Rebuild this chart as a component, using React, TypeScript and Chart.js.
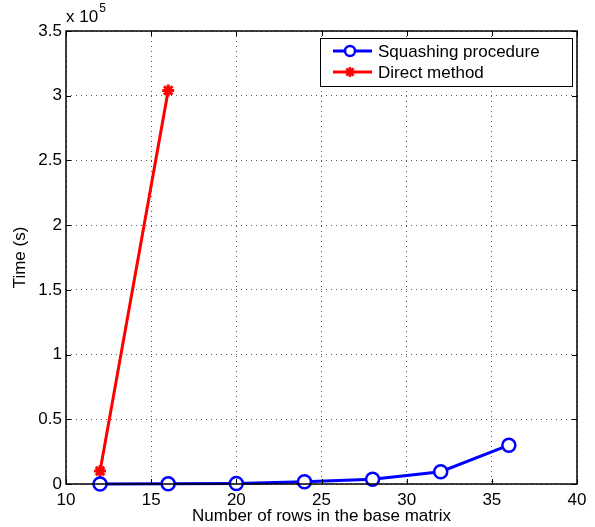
import React, { useEffect, useRef } from "react";
import { Chart, registerables } from "chart.js";

Chart.register(...registerables);

const rows = [12, 16, 20, 24, 28, 32, 36];
const squashingTime = [50, 150, 400, 1800, 3700, 9500, 30000];
const directRows = [12, 16];
const directTime = [10000, 304000];
const xTicks = [10, 15, 20, 25, 30, 35, 40];
const yTickLabels = ["0", "0.5", "1", "1.5", "2", "2.5", "3", "3.5"];

const FONT = "'Liberation Sans', Arial, Helvetica, sans-serif";
const FS = 17;

const boxPlugin = {
  id: "boxAndLegend",
  afterDatasetsDraw(chart: any) {
    const { ctx, chartArea } = chart;
    const { left, right, top, bottom } = chartArea;
    ctx.save();
    ctx.strokeStyle = "#000";
    ctx.lineWidth = 1.5;
    ctx.strokeRect(left, top, right - left, bottom - top);
    // inward ticks
    const xs = chart.scales.x;
    const ys = chart.scales.y;
    ctx.lineWidth = 1;
    ctx.beginPath();
    xTicks.forEach((v) => {
      const px = Math.round(xs.getPixelForValue(v)) + 0.5;
      ctx.moveTo(px, bottom);
      ctx.lineTo(px, bottom - 5);
      ctx.moveTo(px, top);
      ctx.lineTo(px, top + 5);
    });
    yTickLabels.forEach((_, i) => {
      const py = Math.round(ys.getPixelForValue(i * 50000)) + 0.5;
      ctx.moveTo(left, py);
      ctx.lineTo(left + 5, py);
      ctx.moveTo(right, py);
      ctx.lineTo(right - 5, py);
    });
    ctx.stroke();

    // exponent label
    ctx.fillStyle = "#000";
    ctx.textBaseline = "alphabetic";
    ctx.textAlign = "left";
    ctx.font = `${FS}px ${FONT}`;
    ctx.fillText("x 10", left, 22);
    const w = ctx.measureText("x 10").width;
    ctx.font = `12px ${FONT}`;
    ctx.fillText("5", left + w + 1, 12);

    // legend
    const lx = 320, ly = 38, lw = 252, lh = 48;
    ctx.fillStyle = "#fff";
    ctx.fillRect(lx, ly, lw, lh);
    ctx.strokeStyle = "#000";
    ctx.lineWidth = 1;
    ctx.strokeRect(lx + 0.5, ly + 0.5, lw, lh);
    const items = [
      { label: "Squashing procedure", color: "#0000ff", style: "circle" },
      { label: "Direct method", color: "#ff0000", style: "star" },
    ];
    items.forEach((it, i) => {
      const cy = ly + 13 + i * 21;
      ctx.strokeStyle = it.color;
      ctx.lineWidth = 3;
      ctx.beginPath();
      ctx.moveTo(lx + 13, cy);
      ctx.lineTo(lx + 52, cy);
      ctx.stroke();
      if (it.style === "circle") {
        ctx.fillStyle = "#fff";
        ctx.beginPath();
        ctx.arc(lx + 30, cy, 5, 0, Math.PI * 2);
        ctx.fill();
        ctx.lineWidth = 2.5;
        ctx.stroke();
      } else {
        ctx.lineWidth = 2.5;
        ctx.beginPath();
        for (let k = 0; k < 4; k++) {
          const a = (k * Math.PI) / 4;
          ctx.moveTo(lx + 30 - Math.cos(a) * 5, cy - Math.sin(a) * 5);
          ctx.lineTo(lx + 30 + Math.cos(a) * 5, cy + Math.sin(a) * 5);
        }
        ctx.stroke();
      }
      ctx.fillStyle = "#000";
      ctx.font = `${FS}px ${FONT}`;
      ctx.textBaseline = "middle";
      ctx.fillText(it.label, lx + 58, cy + 1);
    });
    ctx.restore();
  },
};

export default function App() {
  const ref = useRef<HTMLCanvasElement>(null);
  useEffect(() => {
    const canvas = ref.current!;
    const chart = new Chart(canvas, {
      type: "line",
      data: {
        datasets: [
          {
            label: "Squashing procedure",
            data: rows.map((r, i) => ({ x: r, y: squashingTime[i] })),
            borderColor: "#0000ff",
            backgroundColor: "#ffffff",
            borderWidth: 3,
            pointStyle: "circle",
            pointRadius: 6.5,
            pointBorderWidth: 2.5,
            pointBorderColor: "#0000ff",
            pointBackgroundColor: "#ffffff",
            clip: false as any,
            tension: 0,
          },
          {
            label: "Direct method",
            data: directRows.map((r, i) => ({ x: r, y: directTime[i] })),
            borderColor: "#ff0000",
            backgroundColor: "#ff0000",
            borderWidth: 3,
            pointStyle: "star",
            pointRadius: 6,
            pointBorderWidth: 3,
            pointBorderColor: "#ff0000",
            clip: false as any,
            tension: 0,
          },
        ],
      },
      options: {
        responsive: false,
        animation: false,
        devicePixelRatio: 1,
        layout: { padding: { top: 31, right: 18, left: 0, bottom: 0 } },
        plugins: { legend: { display: false }, tooltip: { enabled: false } },
        scales: {
          x: {
            type: "linear",
            min: 10,
            max: 40,
            afterBuildTicks: (s: any) => {
              s.ticks = xTicks.map((v) => ({ value: v }));
            },
            afterFit: (s: any) => {
              s.height = 43;
            },
            ticks: {
              color: "#000",
              font: { family: FONT, size: FS },
              padding: 6,
              maxRotation: 0,
            },
            grid: {
              color: "#555",
              lineWidth: 1,
              tickLength: 0,
              drawTicks: false,
            },
            border: { display: false, dash: [1, 4] },
            title: {
              display: true,
              text: "Number of rows in the base matrix",
              color: "#000",
              font: { family: FONT, size: FS },
              padding: { top: 0, bottom: 0 },
            },
          },
          y: {
            type: "linear",
            min: 0,
            max: 350000,
            afterBuildTicks: (s: any) => {
              s.ticks = yTickLabels.map((_, i) => ({ value: i * 50000 }));
            },
            afterFit: (s: any) => {
              s.width = 66;
            },
            ticks: {
              color: "#000",
              font: { family: FONT, size: FS },
              padding: 4,
              callback: (_v: any, i: number) => yTickLabels[i],
            },
            grid: {
              color: "#555",
              lineWidth: 1,
              tickLength: 0,
              drawTicks: false,
            },
            border: { display: false, dash: [1, 4] },
            title: {
              display: true,
              text: "Time (s)",
              color: "#000",
              font: { family: FONT, size: FS },
              padding: { top: 10, bottom: 4 },
            },
          },
        },
      } as any,
      plugins: [boxPlugin],
    });
    return () => chart.destroy();
  }, []);
  return (
    <canvas
      ref={ref}
      width={595}
      height={527}
      style={{ position: "absolute", left: 0, top: 0, width: 595, height: 527, background: "#fff" }}
    />
  );
}
